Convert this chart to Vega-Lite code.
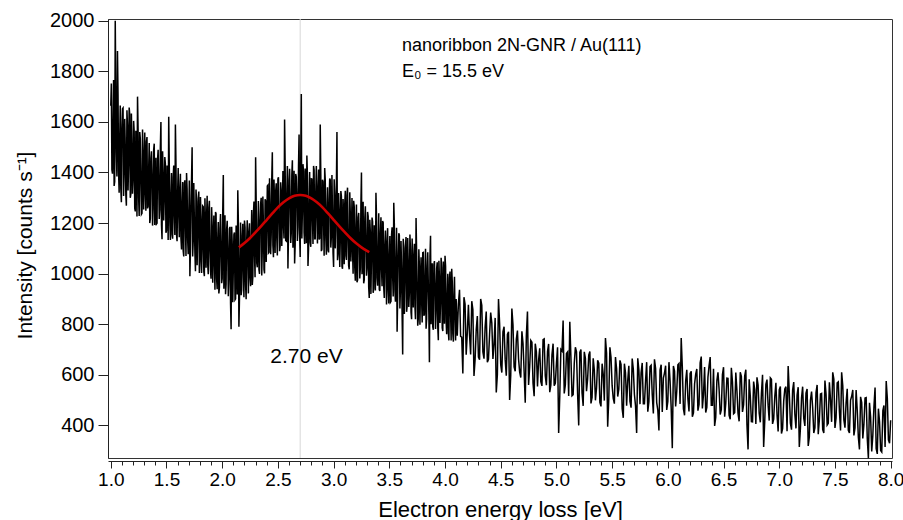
{
"$schema": "https://vega.github.io/schema/vega-lite/v6.json",
"width": 784, "height": 439,
"autosize": {"type": "none"},
"padding": {"left": 108, "top": 19, "right": 11, "bottom": 62},
"background": "white",
"config": {"view": {"stroke": "#333", "strokeWidth": 1}, "font": "Liberation Sans", "axis": {"labelFont": "Liberation Sans", "titleFont": "Liberation Sans"}},
"datasets": {
"spectrum": [
{"loss":1.00,"intensity":1664},{"loss":1.01,"intensity":1411},{"loss":1.02,"intensity":1587},{"loss":1.03,"intensity":1347},{"loss":1.04,"intensity":2000},{"loss":1.05,"intensity":1478},{"loss":1.06,"intensity":1880},{"loss":1.07,"intensity":1401},{"loss":1.08,"intensity":1525},{"loss":1.09,"intensity":1337},
{"loss":1.10,"intensity":1578},{"loss":1.11,"intensity":1655},{"loss":1.12,"intensity":1408},{"loss":1.13,"intensity":1505},{"loss":1.14,"intensity":1269},{"loss":1.15,"intensity":1585},{"loss":1.16,"intensity":1441},{"loss":1.17,"intensity":1630},{"loss":1.18,"intensity":1314},{"loss":1.19,"intensity":1504},
{"loss":1.20,"intensity":1371},{"loss":1.21,"intensity":1562},{"loss":1.22,"intensity":1246},{"loss":1.23,"intensity":1471},{"loss":1.24,"intensity":1700},{"loss":1.25,"intensity":1300},{"loss":1.26,"intensity":1560},{"loss":1.27,"intensity":1370},{"loss":1.28,"intensity":1239},{"loss":1.29,"intensity":1476},
{"loss":1.30,"intensity":1390},{"loss":1.31,"intensity":1326},{"loss":1.32,"intensity":1522},{"loss":1.33,"intensity":1258},{"loss":1.34,"intensity":1414},{"loss":1.35,"intensity":1200},{"loss":1.36,"intensity":1456},{"loss":1.37,"intensity":1382},{"loss":1.38,"intensity":1258},{"loss":1.39,"intensity":1514},
{"loss":1.40,"intensity":1300},{"loss":1.41,"intensity":1196},{"loss":1.42,"intensity":1452},{"loss":1.43,"intensity":1368},{"loss":1.44,"intensity":1254},{"loss":1.45,"intensity":1600},{"loss":1.46,"intensity":1136},{"loss":1.47,"intensity":1392},{"loss":1.48,"intensity":1298},{"loss":1.49,"intensity":1434},
{"loss":1.50,"intensity":1170},{"loss":1.51,"intensity":1355},{"loss":1.52,"intensity":1620},{"loss":1.53,"intensity":1205},{"loss":1.54,"intensity":1300},{"loss":1.55,"intensity":1155},{"loss":1.56,"intensity":1380},{"loss":1.57,"intensity":1235},{"loss":1.58,"intensity":1590},{"loss":1.59,"intensity":1155},
{"loss":1.60,"intensity":1320},{"loss":1.61,"intensity":1246},{"loss":1.62,"intensity":1332},{"loss":1.63,"intensity":1138},{"loss":1.64,"intensity":1274},{"loss":1.65,"intensity":1090},{"loss":1.66,"intensity":1356},{"loss":1.67,"intensity":1192},{"loss":1.68,"intensity":1398},{"loss":1.69,"intensity":1134},
{"loss":1.70,"intensity":1230},{"loss":1.71,"intensity":990},{"loss":1.72,"intensity":1270},{"loss":1.73,"intensity":1500},{"loss":1.74,"intensity":1130},{"loss":1.75,"intensity":1215},{"loss":1.76,"intensity":1010},{"loss":1.77,"intensity":1285},{"loss":1.78,"intensity":1160},{"loss":1.79,"intensity":1325},
{"loss":1.80,"intensity":1050},{"loss":1.81,"intensity":1215},{"loss":1.82,"intensity":1100},{"loss":1.83,"intensity":1265},{"loss":1.84,"intensity":990},{"loss":1.85,"intensity":1185},{"loss":1.86,"intensity":1230},{"loss":1.87,"intensity":1035},{"loss":1.88,"intensity":1260},{"loss":1.89,"intensity":1095},
{"loss":1.90,"intensity":980},{"loss":1.91,"intensity":1186},{"loss":1.92,"intensity":1112},{"loss":1.93,"intensity":1048},{"loss":1.94,"intensity":1244},{"loss":1.95,"intensity":980},{"loss":1.96,"intensity":1136},{"loss":1.97,"intensity":922},{"loss":1.98,"intensity":1178},{"loss":1.99,"intensity":1104},
{"loss":2.00,"intensity":980},{"loss":2.01,"intensity":1390},{"loss":2.02,"intensity":1023},{"loss":2.03,"intensity":919},{"loss":2.04,"intensity":1176},{"loss":2.05,"intensity":1092},{"loss":2.06,"intensity":979},{"loss":2.07,"intensity":1185},{"loss":2.08,"intensity":780},{"loss":2.09,"intensity":1118},
{"loss":2.10,"intensity":1025},{"loss":2.11,"intensity":1163},{"loss":2.12,"intensity":901},{"loss":2.13,"intensity":1089},{"loss":2.14,"intensity":1330},{"loss":2.15,"intensity":790},{"loss":2.16,"intensity":1050},{"loss":2.17,"intensity":915},{"loss":2.18,"intensity":1150},{"loss":2.19,"intensity":1015},
{"loss":2.20,"intensity":1210},{"loss":2.21,"intensity":956},{"loss":2.22,"intensity":1133},{"loss":2.23,"intensity":1069},{"loss":2.24,"intensity":1166},{"loss":2.25,"intensity":982},{"loss":2.26,"intensity":1129},{"loss":2.27,"intensity":955},{"loss":2.28,"intensity":1232},{"loss":2.29,"intensity":1078},
{"loss":2.30,"intensity":1460},{"loss":2.31,"intensity":1042},{"loss":2.32,"intensity":1149},{"loss":2.33,"intensity":1016},{"loss":2.34,"intensity":1213},{"loss":2.35,"intensity":1300},{"loss":2.36,"intensity":1097},{"loss":2.37,"intensity":1194},{"loss":2.38,"intensity":1001},{"loss":2.39,"intensity":1288},
{"loss":2.40,"intensity":1175},{"loss":2.41,"intensity":1350},{"loss":2.42,"intensity":1085},{"loss":2.43,"intensity":1260},{"loss":2.44,"intensity":1155},{"loss":2.45,"intensity":1480},{"loss":2.46,"intensity":1065},{"loss":2.47,"intensity":1270},{"loss":2.48,"intensity":1325},{"loss":2.49,"intensity":1140},
{"loss":2.50,"intensity":1375},{"loss":2.51,"intensity":1218},{"loss":2.52,"intensity":1110},{"loss":2.53,"intensity":1323},{"loss":2.54,"intensity":1255},{"loss":2.55,"intensity":1192},{"loss":2.56,"intensity":1610},{"loss":2.57,"intensity":1131},{"loss":2.58,"intensity":1309},{"loss":2.59,"intensity":1020},
{"loss":2.60,"intensity":1369},{"loss":2.61,"intensity":1293},{"loss":2.62,"intensity":1161},{"loss":2.63,"intensity":1448},{"loss":2.64,"intensity":1217},{"loss":2.65,"intensity":1040},{"loss":2.66,"intensity":1394},{"loss":2.67,"intensity":1307},{"loss":2.68,"intensity":1186},{"loss":2.69,"intensity":1550},
{"loss":2.70,"intensity":1066},{"loss":2.71,"intensity":1710},{"loss":2.72,"intensity":1251},{"loss":2.73,"intensity":1404},{"loss":2.74,"intensity":1117},{"loss":2.75,"intensity":1325},{"loss":2.76,"intensity":1467},{"loss":2.77,"intensity":1030},{"loss":2.78,"intensity":1278},{"loss":2.79,"intensity":1123},
{"loss":2.80,"intensity":1375},{"loss":2.81,"intensity":1219},{"loss":2.82,"intensity":1426},{"loss":2.83,"intensity":1138},{"loss":2.84,"intensity":1323},{"loss":2.85,"intensity":1244},{"loss":2.86,"intensity":1337},{"loss":2.87,"intensity":1135},{"loss":2.88,"intensity":1590},{"loss":2.89,"intensity":1089},
{"loss":2.90,"intensity":1371},{"loss":2.91,"intensity":1200},{"loss":2.92,"intensity":1418},{"loss":2.93,"intensity":1141},{"loss":2.94,"intensity":1244},{"loss":2.95,"intensity":1093},{"loss":2.96,"intensity":1290},{"loss":2.97,"intensity":1371},{"loss":2.98,"intensity":1147},{"loss":2.99,"intensity":1239},
{"loss":3.00,"intensity":1026},{"loss":3.01,"intensity":1316},{"loss":3.02,"intensity":1187},{"loss":3.03,"intensity":1560},{"loss":3.04,"intensity":1075},{"loss":3.05,"intensity":1250},{"loss":3.06,"intensity":1131},{"loss":3.07,"intensity":1306},{"loss":3.08,"intensity":1019},{"loss":3.09,"intensity":1225},
{"loss":3.10,"intensity":1275},{"loss":3.11,"intensity":1071},{"loss":3.12,"intensity":1309},{"loss":3.13,"intensity":1136},{"loss":3.14,"intensity":1017},{"loss":3.15,"intensity":1234},{"loss":3.16,"intensity":1156},{"loss":3.17,"intensity":1092},{"loss":3.18,"intensity":1288},{"loss":3.19,"intensity":1024},
{"loss":3.20,"intensity":1180},{"loss":3.21,"intensity":966},{"loss":3.22,"intensity":1222},{"loss":3.23,"intensity":1148},{"loss":3.24,"intensity":1024},{"loss":3.25,"intensity":1400},{"loss":3.26,"intensity":1066},{"loss":3.27,"intensity":962},{"loss":3.28,"intensity":1218},{"loss":3.29,"intensity":1134},
{"loss":3.30,"intensity":1020},{"loss":3.31,"intensity":1227},{"loss":3.32,"intensity":904},{"loss":3.33,"intensity":1161},{"loss":3.34,"intensity":1068},{"loss":3.35,"intensity":1205},{"loss":3.36,"intensity":942},{"loss":3.37,"intensity":1129},{"loss":3.38,"intensity":1320},{"loss":3.39,"intensity":983},
{"loss":3.40,"intensity":1080},{"loss":3.41,"intensity":937},{"loss":3.42,"intensity":1164},{"loss":3.43,"intensity":1021},{"loss":3.44,"intensity":1208},{"loss":3.45,"intensity":945},{"loss":3.46,"intensity":1112},{"loss":3.47,"intensity":1039},{"loss":3.48,"intensity":1126},{"loss":3.49,"intensity":933},
{"loss":3.50,"intensity":1070},{"loss":3.51,"intensity":887},{"loss":3.52,"intensity":1154},{"loss":3.53,"intensity":991},{"loss":3.54,"intensity":1280},{"loss":3.55,"intensity":935},{"loss":3.56,"intensity":1032},{"loss":3.57,"intensity":770},{"loss":3.58,"intensity":1076},{"loss":3.59,"intensity":1153},
{"loss":3.60,"intensity":940},{"loss":3.61,"intensity":1027},{"loss":3.62,"intensity":680},{"loss":3.63,"intensity":1101},{"loss":3.64,"intensity":978},{"loss":3.65,"intensity":1145},{"loss":3.66,"intensity":872},{"loss":3.67,"intensity":1039},{"loss":3.68,"intensity":926},{"loss":3.69,"intensity":1093},
{"loss":3.70,"intensity":820},{"loss":3.71,"intensity":1017},{"loss":3.72,"intensity":1064},{"loss":3.73,"intensity":871},{"loss":3.74,"intensity":1220},{"loss":3.75,"intensity":935},{"loss":3.76,"intensity":822},{"loss":3.77,"intensity":1029},{"loss":3.78,"intensity":956},{"loss":3.79,"intensity":896},
{"loss":3.80,"intensity":1083},{"loss":3.81,"intensity":834},{"loss":3.82,"intensity":984},{"loss":3.83,"intensity":782},{"loss":3.84,"intensity":1028},{"loss":3.85,"intensity":959},{"loss":3.86,"intensity":650},{"loss":3.87,"intensity":1150},{"loss":3.88,"intensity":886},{"loss":3.89,"intensity":789},
{"loss":3.90,"intensity":1035},{"loss":3.91,"intensity":956},{"loss":3.92,"intensity":848},{"loss":3.93,"intensity":1045},{"loss":3.94,"intensity":737},{"loss":3.95,"intensity":982},{"loss":3.96,"intensity":893},{"loss":3.97,"intensity":1023},{"loss":3.98,"intensity":773},{"loss":3.99,"intensity":951},
{"loss":4.00,"intensity":1071},{"loss":4.01,"intensity":811},{"loss":4.02,"intensity":904},{"loss":4.03,"intensity":767},{"loss":4.04,"intensity":983},{"loss":4.05,"intensity":847},{"loss":4.06,"intensity":1019},{"loss":4.07,"intensity":762},{"loss":4.08,"intensity":915},{"loss":4.09,"intensity":839},
{"loss":4.10,"intensity":900},{"loss":4.12,"intensity":881},{"loss":4.14,"intensity":752},{"loss":4.16,"intensity":605},{"loss":4.18,"intensity":880},{"loss":4.20,"intensity":765},{"loss":4.22,"intensity":758},{"loss":4.24,"intensity":891},{"loss":4.26,"intensity":595},{"loss":4.28,"intensity":777},
{"loss":4.30,"intensity":670},{"loss":4.32,"intensity":900},{"loss":4.34,"intensity":690},{"loss":4.36,"intensity":790},{"loss":4.38,"intensity":650},{"loss":4.40,"intensity":760},{"loss":4.42,"intensity":805},{"loss":4.44,"intensity":720},{"loss":4.46,"intensity":530},{"loss":4.48,"intensity":900},
{"loss":4.50,"intensity":640},{"loss":4.52,"intensity":770},{"loss":4.54,"intensity":660},{"loss":4.56,"intensity":760},{"loss":4.58,"intensity":500},{"loss":4.60,"intensity":862},{"loss":4.62,"intensity":631},{"loss":4.64,"intensity":740},{"loss":4.66,"intensity":663},{"loss":4.68,"intensity":589},
{"loss":4.70,"intensity":725},{"loss":4.72,"intensity":490},{"loss":4.74,"intensity":850},{"loss":4.76,"intensity":633},{"loss":4.78,"intensity":729},{"loss":4.80,"intensity":515},{"loss":4.82,"intensity":691},{"loss":4.84,"intensity":657},{"loss":4.86,"intensity":573},{"loss":4.88,"intensity":739},
{"loss":4.90,"intensity":595},{"loss":4.92,"intensity":693},{"loss":4.94,"intensity":531},{"loss":4.96,"intensity":679},{"loss":4.98,"intensity":557},{"loss":5.00,"intensity":645},{"loss":5.02,"intensity":370},{"loss":5.04,"intensity":700},{"loss":5.06,"intensity":815},{"loss":5.08,"intensity":560},
{"loss":5.10,"intensity":690},{"loss":5.12,"intensity":810},{"loss":5.14,"intensity":517},{"loss":5.16,"intensity":645},{"loss":5.18,"intensity":692},{"loss":5.20,"intensity":400},{"loss":5.22,"intensity":700},{"loss":5.24,"intensity":477},{"loss":5.26,"intensity":665},{"loss":5.28,"intensity":584},
{"loss":5.30,"intensity":692},{"loss":5.32,"intensity":511},{"loss":5.34,"intensity":619},{"loss":5.36,"intensity":548},{"loss":5.38,"intensity":646},{"loss":5.40,"intensity":475},{"loss":5.42,"intensity":603},{"loss":5.44,"intensity":745},{"loss":5.46,"intensity":395},{"loss":5.48,"intensity":709},
{"loss":5.50,"intensity":557},{"loss":5.52,"intensity":486},{"loss":5.54,"intensity":624},{"loss":5.56,"intensity":543},{"loss":5.58,"intensity":641},{"loss":5.60,"intensity":430},{"loss":5.62,"intensity":608},{"loss":5.64,"intensity":577},{"loss":5.66,"intensity":495},{"loss":5.68,"intensity":664},
{"loss":5.70,"intensity":522},{"loss":5.72,"intensity":370},{"loss":5.74,"intensity":619},{"loss":5.76,"intensity":608},{"loss":5.78,"intensity":486},{"loss":5.80,"intensity":575},{"loss":5.82,"intensity":454},{"loss":5.84,"intensity":633},{"loss":5.86,"intensity":522},{"loss":5.88,"intensity":661},
{"loss":5.90,"intensity":490},{"loss":5.92,"intensity":380},{"loss":5.94,"intensity":640},{"loss":5.96,"intensity":587},{"loss":5.98,"intensity":636},{"loss":6.00,"intensity":495},{"loss":6.02,"intensity":575},{"loss":6.04,"intensity":310},{"loss":6.06,"intensity":615},{"loss":6.08,"intensity":535},
{"loss":6.10,"intensity":645},{"loss":6.12,"intensity":745},{"loss":6.14,"intensity":465},{"loss":6.16,"intensity":575},{"loss":6.18,"intensity":505},{"loss":6.20,"intensity":605},{"loss":6.22,"intensity":434},{"loss":6.24,"intensity":564},{"loss":6.26,"intensity":623},{"loss":6.28,"intensity":483},
{"loss":6.30,"intensity":672},{"loss":6.32,"intensity":522},{"loss":6.34,"intensity":451},{"loss":6.36,"intensity":591},{"loss":6.38,"intensity":670},{"loss":6.40,"intensity":480},{"loss":6.42,"intensity":398},{"loss":6.44,"intensity":576},{"loss":6.46,"intensity":544},{"loss":6.48,"intensity":462},
{"loss":6.50,"intensity":630},{"loss":6.52,"intensity":488},{"loss":6.54,"intensity":586},{"loss":6.56,"intensity":424},{"loss":6.58,"intensity":572},{"loss":6.60,"intensity":450},{"loss":6.62,"intensity":538},{"loss":6.64,"intensity":416},{"loss":6.66,"intensity":594},{"loss":6.68,"intensity":482},
{"loss":6.70,"intensity":620},{"loss":6.72,"intensity":305},{"loss":6.74,"intensity":516},{"loss":6.76,"intensity":414},{"loss":6.78,"intensity":542},{"loss":6.80,"intensity":590},{"loss":6.82,"intensity":448},{"loss":6.84,"intensity":526},{"loss":6.86,"intensity":315},{"loss":6.88,"intensity":562},
{"loss":6.90,"intensity":480},{"loss":6.92,"intensity":588},{"loss":6.94,"intensity":406},{"loss":6.96,"intensity":514},{"loss":6.98,"intensity":442},{"loss":7.00,"intensity":540},{"loss":7.02,"intensity":368},{"loss":7.04,"intensity":496},{"loss":7.06,"intensity":553},{"loss":7.08,"intensity":635},
{"loss":7.10,"intensity":409},{"loss":7.12,"intensity":540},{"loss":7.14,"intensity":445},{"loss":7.16,"intensity":520},{"loss":7.18,"intensity":315},{"loss":7.20,"intensity":508},{"loss":7.22,"intensity":428},{"loss":7.24,"intensity":528},{"loss":7.26,"intensity":319},{"loss":7.28,"intensity":499},
{"loss":7.30,"intensity":469},{"loss":7.32,"intensity":390},{"loss":7.34,"intensity":560},{"loss":7.36,"intensity":422},{"loss":7.38,"intensity":526},{"loss":7.40,"intensity":370},{"loss":7.42,"intensity":524},{"loss":7.44,"intensity":408},{"loss":7.46,"intensity":502},{"loss":7.48,"intensity":610},
{"loss":7.50,"intensity":390},{"loss":7.52,"intensity":568},{"loss":7.54,"intensity":456},{"loss":7.56,"intensity":610},{"loss":7.58,"intensity":422},{"loss":7.60,"intensity":490},{"loss":7.62,"intensity":380},{"loss":7.64,"intensity":500},{"loss":7.66,"intensity":540},{"loss":7.68,"intensity":390},
{"loss":7.70,"intensity":460},{"loss":7.72,"intensity":305},{"loss":7.74,"intensity":490},{"loss":7.76,"intensity":405},{"loss":7.78,"intensity":510},{"loss":7.80,"intensity":270},{"loss":7.82,"intensity":433},{"loss":7.84,"intensity":361},{"loss":7.86,"intensity":550},{"loss":7.88,"intensity":287},
{"loss":7.90,"intensity":415},{"loss":7.92,"intensity":295},{"loss":7.94,"intensity":479},{"loss":7.96,"intensity":575},{"loss":7.98,"intensity":343},{"loss":8.00,"intensity":420},
{"loss":1.005,"intensity":1752},{"loss":1.015,"intensity":1395},{"loss":1.025,"intensity":1766},{"loss":1.035,"intensity":1364},{"loss":1.045,"intensity":1741},{"loss":1.055,"intensity":1384},{"loss":1.065,"intensity":1709},{"loss":1.075,"intensity":1320},{"loss":1.085,"intensity":1665},{"loss":1.095,"intensity":1282},
{"loss":1.105,"intensity":1652},{"loss":1.115,"intensity":1307},{"loss":1.125,"intensity":1612},{"loss":1.135,"intensity":1312},{"loss":1.145,"intensity":1646},{"loss":1.155,"intensity":1329},{"loss":1.165,"intensity":1657},{"loss":1.175,"intensity":1300},{"loss":1.185,"intensity":1633},{"loss":1.195,"intensity":1316},
{"loss":1.205,"intensity":1604},{"loss":1.215,"intensity":1259},{"loss":1.225,"intensity":1565},{"loss":1.235,"intensity":1226},{"loss":1.245,"intensity":1572},{"loss":1.255,"intensity":1228},{"loss":1.265,"intensity":1534},{"loss":1.275,"intensity":1235},{"loss":1.285,"intensity":1570},{"loss":1.295,"intensity":1254},
{"loss":1.305,"intensity":1558},{"loss":1.315,"intensity":1249},{"loss":1.325,"intensity":1540},{"loss":1.335,"intensity":1266},{"loss":1.345,"intensity":1517},{"loss":1.355,"intensity":1218},{"loss":1.365,"intensity":1484},{"loss":1.375,"intensity":1190},{"loss":1.385,"intensity":1491},{"loss":1.395,"intensity":1192},
{"loss":1.405,"intensity":1458},{"loss":1.415,"intensity":1199},{"loss":1.425,"intensity":1490},{"loss":1.435,"intensity":1216},{"loss":1.445,"intensity":1502},{"loss":1.455,"intensity":1193},{"loss":1.465,"intensity":1484},{"loss":1.475,"intensity":1210},{"loss":1.485,"intensity":1461},{"loss":1.495,"intensity":1162},
{"loss":1.505,"intensity":1428},{"loss":1.515,"intensity":1133},{"loss":1.525,"intensity":1433},{"loss":1.535,"intensity":1133},{"loss":1.545,"intensity":1398},{"loss":1.555,"intensity":1138},{"loss":1.565,"intensity":1428},{"loss":1.575,"intensity":1153},{"loss":1.585,"intensity":1438},{"loss":1.595,"intensity":1128},
{"loss":1.605,"intensity":1418},{"loss":1.615,"intensity":1144},{"loss":1.625,"intensity":1395},{"loss":1.635,"intensity":1096},{"loss":1.645,"intensity":1362},{"loss":1.655,"intensity":1068},{"loss":1.665,"intensity":1369},{"loss":1.675,"intensity":1070},{"loss":1.685,"intensity":1336},{"loss":1.695,"intensity":1077},
{"loss":1.705,"intensity":1368},{"loss":1.715,"intensity":1093},{"loss":1.725,"intensity":1378},{"loss":1.735,"intensity":1068},{"loss":1.745,"intensity":1358},{"loss":1.755,"intensity":1083},{"loss":1.765,"intensity":1333},{"loss":1.775,"intensity":1033},{"loss":1.785,"intensity":1298},{"loss":1.795,"intensity":1003},
{"loss":1.805,"intensity":1303},{"loss":1.815,"intensity":1003},{"loss":1.825,"intensity":1268},{"loss":1.835,"intensity":1008},{"loss":1.845,"intensity":1298},{"loss":1.855,"intensity":1023},{"loss":1.865,"intensity":1308},{"loss":1.875,"intensity":998},{"loss":1.885,"intensity":1288},{"loss":1.895,"intensity":1013},
{"loss":1.905,"intensity":1263},{"loss":1.915,"intensity":964},{"loss":1.925,"intensity":1230},{"loss":1.935,"intensity":936},{"loss":1.945,"intensity":1237},{"loss":1.955,"intensity":938},{"loss":1.965,"intensity":1204},{"loss":1.975,"intensity":945},{"loss":1.985,"intensity":1236},{"loss":1.995,"intensity":962},
{"loss":2.005,"intensity":1248},{"loss":2.015,"intensity":940},{"loss":2.025,"intensity":1231},{"loss":2.035,"intensity":958},{"loss":2.045,"intensity":1209},{"loss":2.055,"intensity":911},{"loss":2.065,"intensity":1177},{"loss":2.075,"intensity":884},{"loss":2.085,"intensity":1185},{"loss":2.095,"intensity":887},
{"loss":2.105,"intensity":1154},{"loss":2.115,"intensity":897},{"loss":2.125,"intensity":1190},{"loss":2.135,"intensity":918},{"loss":2.145,"intensity":1206},{"loss":2.155,"intensity":902},{"loss":2.165,"intensity":1202},{"loss":2.175,"intensity":937},{"loss":2.185,"intensity":1197},{"loss":2.195,"intensity":907},
{"loss":2.205,"intensity":1183},{"loss":2.215,"intensity":899},{"loss":2.225,"intensity":1211},{"loss":2.235,"intensity":922},{"loss":2.245,"intensity":1199},{"loss":2.255,"intensity":950},{"loss":2.265,"intensity":1252},{"loss":2.275,"intensity":988},{"loss":2.285,"intensity":1285},{"loss":2.295,"intensity":986},
{"loss":2.305,"intensity":1288},{"loss":2.315,"intensity":1025},{"loss":2.325,"intensity":1287},{"loss":2.335,"intensity":999},{"loss":2.345,"intensity":1276},{"loss":2.355,"intensity":993},{"loss":2.365,"intensity":1305},{"loss":2.375,"intensity":1017},{"loss":2.385,"intensity":1294},{"loss":2.395,"intensity":1046},
{"loss":2.405,"intensity":1347},{"loss":2.415,"intensity":1082},{"loss":2.425,"intensity":1377},{"loss":2.435,"intensity":1077},{"loss":2.445,"intensity":1377},{"loss":2.455,"intensity":1112},{"loss":2.465,"intensity":1372},{"loss":2.475,"intensity":1082},{"loss":2.485,"intensity":1357},{"loss":2.495,"intensity":1072},
{"loss":2.505,"intensity":1381},{"loss":2.515,"intensity":1089},{"loss":2.525,"intensity":1361},{"loss":2.535,"intensity":1109},{"loss":2.545,"intensity":1406},{"loss":2.555,"intensity":1139},{"loss":2.565,"intensity":1431},{"loss":2.575,"intensity":1129},{"loss":2.585,"intensity":1426},{"loss":2.595,"intensity":1159},
{"loss":2.605,"intensity":1415},{"loss":2.615,"intensity":1121},{"loss":2.625,"intensity":1391},{"loss":2.635,"intensity":1102},{"loss":2.645,"intensity":1407},{"loss":2.655,"intensity":1113},{"loss":2.665,"intensity":1383},{"loss":2.675,"intensity":1129},{"loss":2.685,"intensity":1424},{"loss":2.695,"intensity":1155},
{"loss":2.705,"intensity":1445},{"loss":2.715,"intensity":1139},{"loss":2.725,"intensity":1433},{"loss":2.735,"intensity":1162},{"loss":2.745,"intensity":1416},{"loss":2.755,"intensity":1120},{"loss":2.765,"intensity":1389},{"loss":2.775,"intensity":1098},{"loss":2.785,"intensity":1402},{"loss":2.795,"intensity":1106},
{"loss":2.805,"intensity":1374},{"loss":2.815,"intensity":1117},{"loss":2.825,"intensity":1410},{"loss":2.835,"intensity":1138},{"loss":2.845,"intensity":1426},{"loss":2.855,"intensity":1119},{"loss":2.865,"intensity":1412},{"loss":2.875,"intensity":1140},{"loss":2.885,"intensity":1393},{"loss":2.895,"intensity":1096},
{"loss":2.905,"intensity":1364},{"loss":2.915,"intensity":1071},{"loss":2.925,"intensity":1373},{"loss":2.935,"intensity":1075},{"loss":2.945,"intensity":1342},{"loss":2.955,"intensity":1084},{"loss":2.965,"intensity":1376},{"loss":2.975,"intensity":1103},{"loss":2.985,"intensity":1390},{"loss":2.995,"intensity":1082},
{"loss":3.005,"intensity":1373},{"loss":3.015,"intensity":1100},{"loss":3.025,"intensity":1351},{"loss":3.035,"intensity":1053},{"loss":3.045,"intensity":1319},{"loss":3.055,"intensity":1026},{"loss":3.065,"intensity":1327},{"loss":3.075,"intensity":1029},{"loss":3.085,"intensity":1295},{"loss":3.095,"intensity":1037},
{"loss":3.105,"intensity":1328},{"loss":3.115,"intensity":1054},{"loss":3.125,"intensity":1340},{"loss":3.135,"intensity":1031},{"loss":3.145,"intensity":1322},{"loss":3.155,"intensity":1048},{"loss":3.165,"intensity":1299},{"loss":3.175,"intensity":1000},{"loss":3.185,"intensity":1266},{"loss":3.195,"intensity":972},
{"loss":3.205,"intensity":1273},{"loss":3.215,"intensity":974},{"loss":3.225,"intensity":1240},{"loss":3.235,"intensity":981},{"loss":3.245,"intensity":1272},{"loss":3.255,"intensity":998},{"loss":3.265,"intensity":1284},{"loss":3.275,"intensity":975},{"loss":3.285,"intensity":1266},{"loss":3.295,"intensity":992},
{"loss":3.305,"intensity":1244},{"loss":3.315,"intensity":946},{"loss":3.325,"intensity":1213},{"loss":3.335,"intensity":920},{"loss":3.345,"intensity":1222},{"loss":3.355,"intensity":924},{"loss":3.365,"intensity":1191},{"loss":3.375,"intensity":933},{"loss":3.385,"intensity":1225},{"loss":3.395,"intensity":952},
{"loss":3.405,"intensity":1239},{"loss":3.415,"intensity":931},{"loss":3.425,"intensity":1223},{"loss":3.435,"intensity":950},{"loss":3.445,"intensity":1202},{"loss":3.455,"intensity":904},{"loss":3.465,"intensity":1171},{"loss":3.475,"intensity":878},{"loss":3.485,"intensity":1180},{"loss":3.495,"intensity":882},
{"loss":3.505,"intensity":1149},{"loss":3.515,"intensity":891},{"loss":3.525,"intensity":1183},{"loss":3.535,"intensity":910},{"loss":3.545,"intensity":1197},{"loss":3.555,"intensity":889},{"loss":3.565,"intensity":1181},{"loss":3.575,"intensity":908},{"loss":3.585,"intensity":1160},{"loss":3.595,"intensity":862},
{"loss":3.605,"intensity":1129},{"loss":3.615,"intensity":836},{"loss":3.625,"intensity":1138},{"loss":3.635,"intensity":840},{"loss":3.645,"intensity":1107},{"loss":3.655,"intensity":849},{"loss":3.665,"intensity":1141},{"loss":3.675,"intensity":868},{"loss":3.685,"intensity":1155},{"loss":3.695,"intensity":847},
{"loss":3.705,"intensity":1139},{"loss":3.715,"intensity":866},{"loss":3.725,"intensity":1118},{"loss":3.735,"intensity":820},{"loss":3.745,"intensity":1087},{"loss":3.755,"intensity":794},{"loss":3.765,"intensity":1096},{"loss":3.775,"intensity":798},{"loss":3.785,"intensity":1065},{"loss":3.795,"intensity":807},
{"loss":3.805,"intensity":1084},{"loss":3.815,"intensity":839},{"loss":3.825,"intensity":1098},{"loss":3.835,"intensity":821},{"loss":3.845,"intensity":1085},{"loss":3.855,"intensity":840},{"loss":3.865,"intensity":1068},{"loss":3.875,"intensity":800},{"loss":3.885,"intensity":1041},{"loss":3.895,"intensity":778},
{"loss":3.905,"intensity":1050},{"loss":3.915,"intensity":781},{"loss":3.925,"intensity":1021},{"loss":3.935,"intensity":788},{"loss":3.945,"intensity":1051},{"loss":3.955,"intensity":805},{"loss":3.965,"intensity":1063},{"loss":3.975,"intensity":785},{"loss":3.985,"intensity":1048},{"loss":3.995,"intensity":802},
{"loss":4.005,"intensity":1029},{"loss":4.015,"intensity":760},{"loss":4.025,"intensity":1000},{"loss":4.035,"intensity":736},{"loss":4.045,"intensity":1008},{"loss":4.055,"intensity":736},{"loss":4.065,"intensity":970},{"loss":4.075,"intensity":731},{"loss":4.085,"intensity":988},{"loss":4.095,"intensity":736},
{"loss":4.11,"intensity":755},{"loss":4.13,"intensity":936},{"loss":4.15,"intensity":749},{"loss":4.17,"intensity":907},{"loss":4.19,"intensity":679},{"loss":4.21,"intensity":877},{"loss":4.23,"intensity":680},{"loss":4.25,"intensity":858},{"loss":4.27,"intensity":661},{"loss":4.29,"intensity":832},
{"loss":4.31,"intensity":660},{"loss":4.33,"intensity":875},{"loss":4.35,"intensity":664},{"loss":4.37,"intensity":850},{"loss":4.39,"intensity":661},{"loss":4.41,"intensity":846},{"loss":4.43,"intensity":663},{"loss":4.45,"intensity":825},{"loss":4.47,"intensity":601},{"loss":4.49,"intensity":803},
{"loss":4.51,"intensity":609},{"loss":4.53,"intensity":790},{"loss":4.55,"intensity":596},{"loss":4.57,"intensity":770},{"loss":4.59,"intensity":599},{"loss":4.61,"intensity":798},{"loss":4.63,"intensity":614},{"loss":4.65,"intensity":775},{"loss":4.67,"intensity":611},{"loss":4.69,"intensity":772},
{"loss":4.71,"intensity":613},{"loss":4.73,"intensity":754},{"loss":4.75,"intensity":560},{"loss":4.77,"intensity":736},{"loss":4.79,"intensity":567},{"loss":4.81,"intensity":723},{"loss":4.83,"intensity":554},{"loss":4.85,"intensity":705},{"loss":4.87,"intensity":556},{"loss":4.89,"intensity":742},
{"loss":4.91,"intensity":559},{"loss":4.93,"intensity":722},{"loss":4.95,"intensity":560},{"loss":4.97,"intensity":723},{"loss":4.99,"intensity":566},{"loss":5.01,"intensity":709},{"loss":5.03,"intensity":516},{"loss":5.05,"intensity":694},{"loss":5.07,"intensity":526},{"loss":5.09,"intensity":684},
{"loss":5.11,"intensity":516},{"loss":5.13,"intensity":669},{"loss":5.15,"intensity":521},{"loss":5.17,"intensity":709},{"loss":5.19,"intensity":526},{"loss":5.21,"intensity":689},{"loss":5.23,"intensity":528},{"loss":5.25,"intensity":691},{"loss":5.27,"intensity":535},{"loss":5.29,"intensity":678},
{"loss":5.31,"intensity":487},{"loss":5.33,"intensity":665},{"loss":5.35,"intensity":499},{"loss":5.37,"intensity":657},{"loss":5.39,"intensity":491},{"loss":5.41,"intensity":644},{"loss":5.43,"intensity":498},{"loss":5.45,"intensity":686},{"loss":5.47,"intensity":505},{"loss":5.49,"intensity":668},
{"loss":5.51,"intensity":507},{"loss":5.53,"intensity":670},{"loss":5.55,"intensity":514},{"loss":5.57,"intensity":657},{"loss":5.59,"intensity":466},{"loss":5.61,"intensity":644},{"loss":5.63,"intensity":478},{"loss":5.65,"intensity":636},{"loss":5.67,"intensity":470},{"loss":5.69,"intensity":623},
{"loss":5.71,"intensity":477},{"loss":5.73,"intensity":665},{"loss":5.75,"intensity":484},{"loss":5.77,"intensity":647},{"loss":5.79,"intensity":486},{"loss":5.81,"intensity":650},{"loss":5.83,"intensity":494},{"loss":5.85,"intensity":638},{"loss":5.87,"intensity":447},{"loss":5.89,"intensity":626},
{"loss":5.91,"intensity":460},{"loss":5.93,"intensity":619},{"loss":5.95,"intensity":453},{"loss":5.97,"intensity":607},{"loss":5.99,"intensity":461},{"loss":6.01,"intensity":650},{"loss":6.03,"intensity":470},{"loss":6.05,"intensity":635},{"loss":6.07,"intensity":475},{"loss":6.09,"intensity":640},
{"loss":6.11,"intensity":485},{"loss":6.13,"intensity":630},{"loss":6.15,"intensity":440},{"loss":6.17,"intensity":620},{"loss":6.19,"intensity":455},{"loss":6.21,"intensity":614},{"loss":6.23,"intensity":449},{"loss":6.25,"intensity":603},{"loss":6.27,"intensity":458},{"loss":6.29,"intensity":647},
{"loss":6.31,"intensity":467},{"loss":6.33,"intensity":631},{"loss":6.35,"intensity":471},{"loss":6.37,"intensity":635},{"loss":6.39,"intensity":480},{"loss":6.41,"intensity":624},{"loss":6.43,"intensity":432},{"loss":6.45,"intensity":610},{"loss":6.47,"intensity":443},{"loss":6.49,"intensity":601},
{"loss":6.51,"intensity":434},{"loss":6.53,"intensity":587},{"loss":6.55,"intensity":440},{"loss":6.57,"intensity":628},{"loss":6.59,"intensity":446},{"loss":6.61,"intensity":609},{"loss":6.63,"intensity":447},{"loss":6.65,"intensity":610},{"loss":6.67,"intensity":453},{"loss":6.69,"intensity":596},
{"loss":6.71,"intensity":404},{"loss":6.73,"intensity":582},{"loss":6.75,"intensity":415},{"loss":6.77,"intensity":573},{"loss":6.79,"intensity":406},{"loss":6.81,"intensity":559},{"loss":6.83,"intensity":412},{"loss":6.85,"intensity":600},{"loss":6.87,"intensity":418},{"loss":6.89,"intensity":581},
{"loss":6.91,"intensity":419},{"loss":6.93,"intensity":582},{"loss":6.95,"intensity":425},{"loss":6.97,"intensity":568},{"loss":6.99,"intensity":376},{"loss":7.01,"intensity":554},{"loss":7.03,"intensity":387},{"loss":7.05,"intensity":544},{"loss":7.07,"intensity":377},{"loss":7.09,"intensity":530},
{"loss":7.11,"intensity":383},{"loss":7.13,"intensity":571},{"loss":7.15,"intensity":388},{"loss":7.17,"intensity":551},{"loss":7.19,"intensity":389},{"loss":7.21,"intensity":553},{"loss":7.23,"intensity":398},{"loss":7.25,"intensity":544},{"loss":7.27,"intensity":354},{"loss":7.29,"intensity":534},
{"loss":7.31,"intensity":370},{"loss":7.33,"intensity":530},{"loss":7.35,"intensity":365},{"loss":7.37,"intensity":524},{"loss":7.39,"intensity":383},{"loss":7.41,"intensity":577},{"loss":7.43,"intensity":401},{"loss":7.45,"intensity":570},{"loss":7.47,"intensity":414},{"loss":7.49,"intensity":583},
{"loss":7.51,"intensity":429},{"loss":7.53,"intensity":572},{"loss":7.55,"intensity":380},{"loss":7.57,"intensity":558},{"loss":7.59,"intensity":391},{"loss":7.61,"intensity":545},{"loss":7.63,"intensity":370},{"loss":7.65,"intensity":515},{"loss":7.67,"intensity":360},{"loss":7.69,"intensity":540},
{"loss":7.71,"intensity":353},{"loss":7.73,"intensity":513},{"loss":7.75,"intensity":348},{"loss":7.77,"intensity":508},{"loss":7.79,"intensity":348},{"loss":7.81,"intensity":489},{"loss":7.83,"intensity":297},{"loss":7.85,"intensity":475},{"loss":7.87,"intensity":308},{"loss":7.89,"intensity":466},
{"loss":7.91,"intensity":301},{"loss":7.93,"intensity":458},{"loss":7.95,"intensity":315},{"loss":7.97,"intensity":507},{"loss":7.99,"intensity":329}
],
"fit": [
{"loss":2.15,"intensity":1104},{"loss":2.20,"intensity":1121},{"loss":2.25,"intensity":1141},{"loss":2.30,"intensity":1164},{"loss":2.35,"intensity":1188},{"loss":2.40,"intensity":1213},{"loss":2.45,"intensity":1238},{"loss":2.50,"intensity":1262},{"loss":2.55,"intensity":1282},{"loss":2.60,"intensity":1298},{"loss":2.65,"intensity":1308},{"loss":2.70,"intensity":1311},{"loss":2.75,"intensity":1308},{"loss":2.80,"intensity":1298},{"loss":2.85,"intensity":1282},{"loss":2.90,"intensity":1262},{"loss":2.95,"intensity":1238},{"loss":3.00,"intensity":1213},{"loss":3.05,"intensity":1188},{"loss":3.10,"intensity":1164},{"loss":3.15,"intensity":1141},{"loss":3.20,"intensity":1121},{"loss":3.25,"intensity":1104},{"loss":3.30,"intensity":1090},{"loss":3.32,"intensity":1085}
],
"marker": [{"loss":2.70,"intensity":271,"intensity_end":2007}],
"notes": [{"loss":3.614,"intensity":1900,"label":"nanoribbon 2N-GNR / Au(111)"},{"loss":3.614,"intensity":1797,"label":"E₀ = 15.5 eV"}],
"peak": [{"loss":2.757,"intensity":671,"label":"2.70 eV"}]
},
"encoding": {
"x": {"field": "loss", "type": "quantitative",
 "scale": {"domain": [0.975, 8.012], "nice": false, "zero": false},
 "axis": {"title": "Electron energy loss [eV]", "titleFontSize": 22, "titleFontWeight": "normal", "titleColor": "black", "titlePadding": 10,
  "values": [1.0,1.1,1.2,1.3,1.4,1.5,1.6,1.7,1.8,1.9,2.0,2.1,2.2,2.3,2.4,2.5,2.6,2.7,2.8,2.9,3.0,3.1,3.2,3.3,3.4,3.5,3.6,3.7,3.8,3.9,4.0,4.1,4.2,4.3,4.4,4.5,4.6,4.7,4.8,4.9,5.0,5.1,5.2,5.3,5.4,5.5,5.6,5.7,5.8,5.9,6.0,6.1,6.2,6.3,6.4,6.5,6.6,6.7,6.8,6.9,7.0,7.1,7.2,7.3,7.4,7.5,7.6,7.7,7.8,7.9,8.0],
  "labelExpr": "abs(datum.value*2 - round(datum.value*2)) < 0.01 ? format(datum.value, '.1f') : ''",
  "labelFontSize": 19, "labelColor": "black", "labelPadding": 2, "labelOverlap": false, "labelFlush": false,
  "tickSize": {"condition": {"test": "abs(datum.value*2 - round(datum.value*2)) < 0.01", "value": 7}, "value": 4},
  "tickColor": "#222", "domainColor": "#222", "grid": false, "offset": 3}},
"y": {"field": "intensity", "type": "quantitative",
 "scale": {"domain": [271, 2007], "nice": false, "zero": false},
 "axis": {"title": "Intensity [counts s⁻¹]", "titleFontSize": 21, "titleFontWeight": "normal", "titleColor": "black",
  "titleX": -83, "titleY": 226, "titleAlign": "center", "titleBaseline": "middle", "titleAngle": 270,
  "values": [400,600,800,1000,1200,1400,1600,1800,2000], "format": "d",
  "labelFontSize": 20, "labelColor": "black", "labelPadding": 4, "tickSize": 10,
  "tickColor": "#222", "domainColor": "#222", "grid": false}}
},
"layer": [
{"data": {"name": "marker"}, "mark": {"type": "rule", "color": "#d8d8d8", "strokeWidth": 1}, "encoding": {"y2": {"field": "intensity_end"}}},
{"data": {"name": "spectrum"}, "mark": {"type": "line", "color": "black", "strokeWidth": 1.5}},
{"data": {"name": "fit"}, "mark": {"type": "line", "color": "#cc0000", "strokeWidth": 2.6, "interpolate": "monotone"}},
{"data": {"name": "notes"}, "mark": {"type": "text", "align": "left", "baseline": "middle", "fontSize": 18, "color": "black"}, "encoding": {"text": {"field": "label"}}},
{"data": {"name": "peak"}, "mark": {"type": "text", "align": "center", "baseline": "middle", "fontSize": 21, "color": "black"}, "encoding": {"text": {"field": "label"}}}
]
}
